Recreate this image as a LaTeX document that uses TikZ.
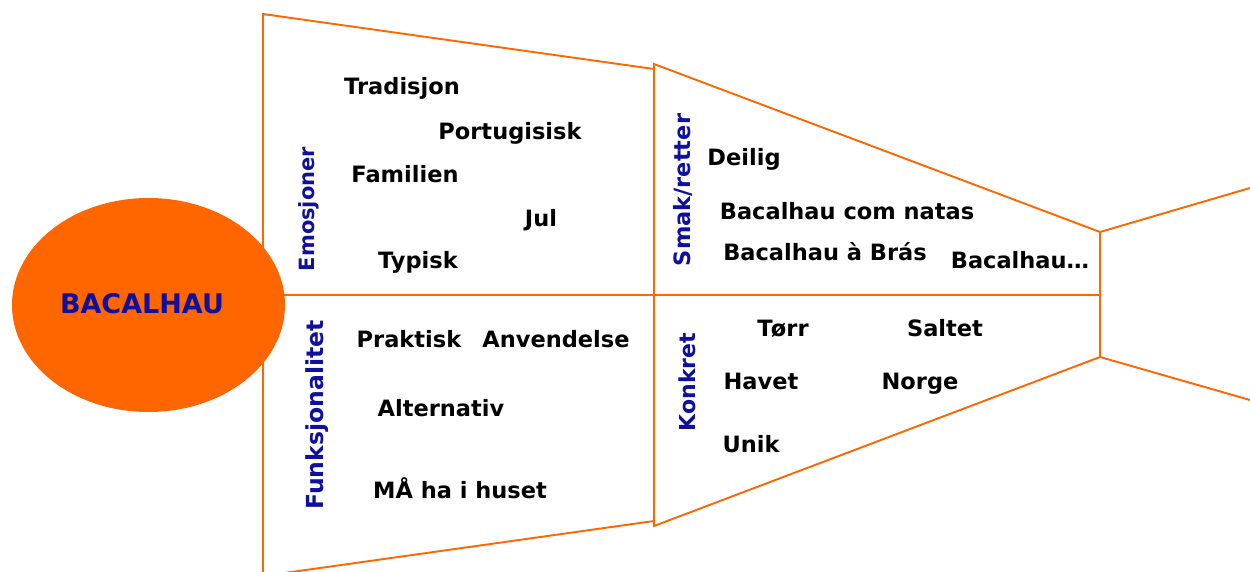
\documentclass[tikz,border=0pt]{standalone}
\usepackage{fontspec}
\setmainfont{DejaVu Sans}
\usetikzlibrary{shapes.geometric}
\definecolor{fishorange}{RGB}{255,102,0}
\definecolor{labelblue}{RGB}{16,16,160}
\tikzset{
  edge/.style={draw=fishorange, line width=1.9pt},
  word/.style={inner sep=0pt, text height=\dimexpr #1pt*73/100\relax, text depth=0pt,
    font=\fontsize{#1}{#1}\selectfont\bfseries, text=black},
  word/.default=22.5,
  cat/.style={inner sep=0pt, rotate=90, text height=\dimexpr #1pt*73/100\relax, text depth=0pt,
    font=\fontsize{#1}{#1}\selectfont\bfseries, text=labelblue},
  cat/.default=22.5,
}
\begin{document}
\begin{tikzpicture}[x=1pt, y=-1pt]
\useasboundingbox (0,0) rectangle (1250,572);
% outline points
\coordinate (a1) at (263,14);
\coordinate (a2) at (654,69);
\coordinate (b1) at (654,64);
\coordinate (b2) at (1100,232);
\coordinate (c1) at (1250,188);
\coordinate (a3) at (263,576);
\coordinate (a4) at (654,521);
\coordinate (b3) at (654,526);
\coordinate (b4) at (1100,357);
\coordinate (c2) at (1250,400);
\coordinate (m1) at (263,295);
\coordinate (m2) at (1100,295);
\begin{scope}
\clip (0,0) rectangle (1250,572);
\draw[edge] (a3) -- (a1) -- (a2) -- (a4) -- cycle;
\draw[edge] (b1) -- (b2) -- (b4) -- (b3) -- cycle;
\draw[edge] (b2) -- (c1);
\draw[edge] (b4) -- (c2);
\draw[edge] (m1) -- (m2);
\end{scope}
% head
\node[ellipse, fill=fishorange, minimum width=273pt, minimum height=214pt, inner sep=0pt] (head) at (148.5,305) {};
\node[word=27, text=labelblue] (title) at (142,304) {BACALHAU};
% category labels (rotated: x is the cap centre)
\node[cat=21] (emo) at (307,209) {Emosjoner};
\node[cat] (smak) at (682,190) {Smak/retter};
\node[cat=23.5] (funk) at (315,415) {Funksjonalitet};
\node[cat=22] (konk) at (687,382) {Konkret};
% words
\node[word] (w1) at (402,86.5) {Tradisjon};
\node[word] (w2) at (510,131.5) {Portugisisk};
\node[word] (w3) at (405,174) {Familien};
\node[word] (w4) at (541,218) {Jul};
\node[word] (w5) at (418,260) {Typisk};
\node[word] (w6) at (744,157.5) {Deilig};
\node[word] (w7) at (847,211) {Bacalhau com natas};
\node[word] (w8) at (825,252.5) {Bacalhau à Brás};
\node[word] (w9) at (1020,260.5) {Bacalhau…};
\node[word] (w10) at (409,339.5) {Praktisk};
\node[word] (w11) at (556,339.5) {Anvendelse};
\node[word] (w12) at (441,408.5) {Alternativ};
\node[word] (w13) at (460,490) {MÅ ha i huset};
\node[word] (w14) at (783,328.5) {Tørr};
\node[word] (w15) at (945,328.5) {Saltet};
\node[word] (w16) at (761,381) {Havet};
\node[word] (w17) at (920,381) {Norge};
\node[word] (w18) at (751,444.5) {Unik};
\end{tikzpicture}
\end{document}
